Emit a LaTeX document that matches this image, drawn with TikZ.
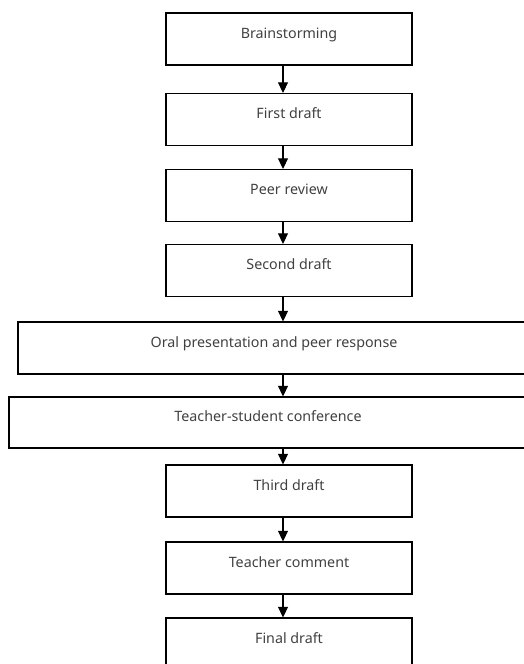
\documentclass[tikz,border=0pt]{standalone}
\usepackage{fontspec}
\setmainfont{Noto Sans}
\usetikzlibrary{arrows.meta}
\begin{document}
\begin{tikzpicture}[x=0.75pt, y=-0.75pt,
    stage/.style={draw, line width=0.8pt, minimum width=184.5pt, minimum height=39pt,
      text height=7.5pt, text depth=9pt, text=black!75,
      font=\fontsize{10.7}{13}\selectfont},
    flow/.style={-{Triangle[width=7.5pt,length=8pt]}, line width=0.8pt}]
    \useasboundingbox (0,0) rectangle (524,664);
    \node[stage] (brain) at (289,39) {Brainstorming};
    \node[stage] (first) at (289,119.5) {First draft};
    \node[stage] (peer) at (289,195.5) {Peer review};
    \node[stage] (second) at (289,270.5) {Second draft};
    \node[stage, minimum width=384pt] (oral) at (274,348) {Oral presentation and peer response};
    \node[stage, minimum width=388.5pt, minimum height=38.25pt] (conf) at (268,422.5) {Teacher-student conference};
    \node[stage] (third) at (289,491) {Third draft};
    \node[stage] (comment) at (289,568) {Teacher comment};
    \node[stage] (final) at (289,644) {Final draft};
    \coordinate (ax) at (283,0);
    \foreach \a/\b in {brain/first,first/peer,peer/second,second/oral,oral/conf,conf/third,third/comment,comment/final}
      \draw[flow] (\a.south -| ax) -- (\b.north -| ax);
\end{tikzpicture}
\end{document}
